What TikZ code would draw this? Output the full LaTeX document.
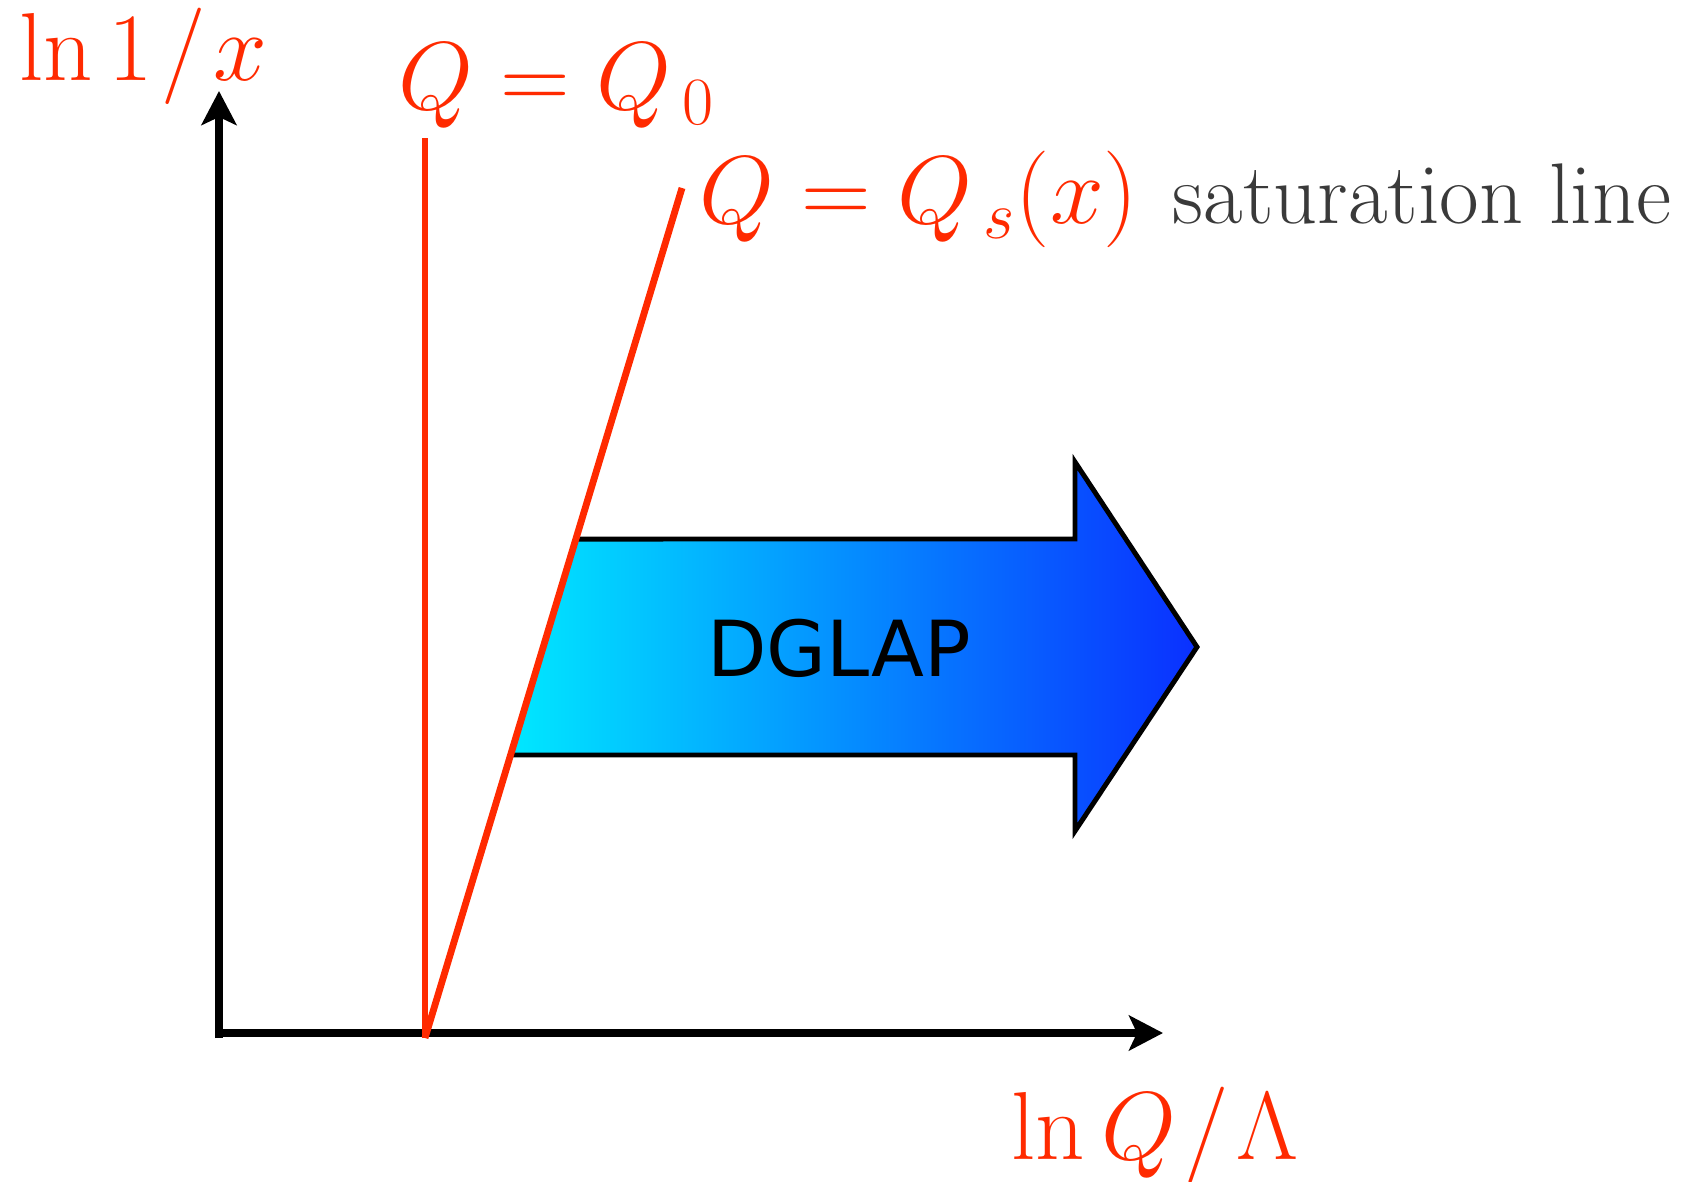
\RequirePackage{fix-cm}
\documentclass[tikz,border=0pt]{standalone}
\usepackage{fontspec}
\newfontfamily\dglapfont{DejaVu Sans}
\usepackage{tikz}
\usetikzlibrary{arrows.meta,positioning,calc}
\definecolor{qred}{HTML}{FF2A00}
\definecolor{satgray}{HTML}{3A3A3A}
\definecolor{dgcyan}{HTML}{00E8FF}
\definecolor{dgblue}{HTML}{0A30FF}

\begin{document}
\begin{tikzpicture}[x=0.02cm,y=-0.02cm,>={Stealth[length=0.68cm,width=0.7cm,inset=0.16cm]},
    axisline/.style={line width=4.4pt,black},
    qline/.style={line width=3.9pt,qred},
    qlabel/.style={inner sep=0pt,text=qred,font=\fontsize{55}{60}\selectfont}]
    \useasboundingbox (0,0) rectangle (1686,1182);
    % axes
    \coordinate (origin) at (219,1038);
    \coordinate (ytip) at (219,91);
    \coordinate (xtip) at (1163,1033);
    \draw[axisline,->] (origin) -- (ytip);
    \draw[axisline,->] (217,1033) -- (xtip);
    \node[qlabel,anchor=base west] (ylab) at (19,81) {$\ln 1\mkern1.5mu/\mkern1.5mu x$};
    \node[qlabel,anchor=base west] (xlab) at (1011,1159) {$\ln Q\mkern1.5mu/\mkern1.5mu\Lambda$};
    % the two lines
    \coordinate (qbot) at (425,1038);
    \coordinate (q0top) at (425,138);
    \coordinate (qstop) at (682,188);
    % DGLAP arrow, left side on the saturation line
    \coordinate (tl) at ($(qbot)!0.587!(qstop)$);
    \coordinate (bl) at ($(qbot)!0.333!(qstop)$);
    \shade[left color=dgcyan,right color=dgblue] (tl) -- (1075,539) -- (1075,462) -- (1197,647)
        -- (1075,831) -- (1075,755) -- (bl) -- cycle;
    \draw[line width=2.8pt,line join=miter] (tl) -- (1075,539) -- (1075,462) -- (1197,647)
        -- (1075,831) -- (1075,755) -- (bl);
    \node[font=\dglapfont\fontsize{44}{48}\selectfont] (dglap) at (839,648) {DGLAP};
    \draw[qline] (qbot) -- (q0top);
    \draw[qline] (qbot) -- (qstop);
    \node[qlabel,anchor=base west] (q0) at (398,110) {$Q=Q_{\mkern3mu 0}$};
    \node[qlabel,anchor=base west] (qs) at (699,224) {$Q=Q_{\mkern3mu s}(x)$};
    \node[inner sep=0pt,text=satgray,font=\fontsize{49}{54}\selectfont,base right=0.68cm of qs] (sat) {saturation line};
\end{tikzpicture}
\end{document}
